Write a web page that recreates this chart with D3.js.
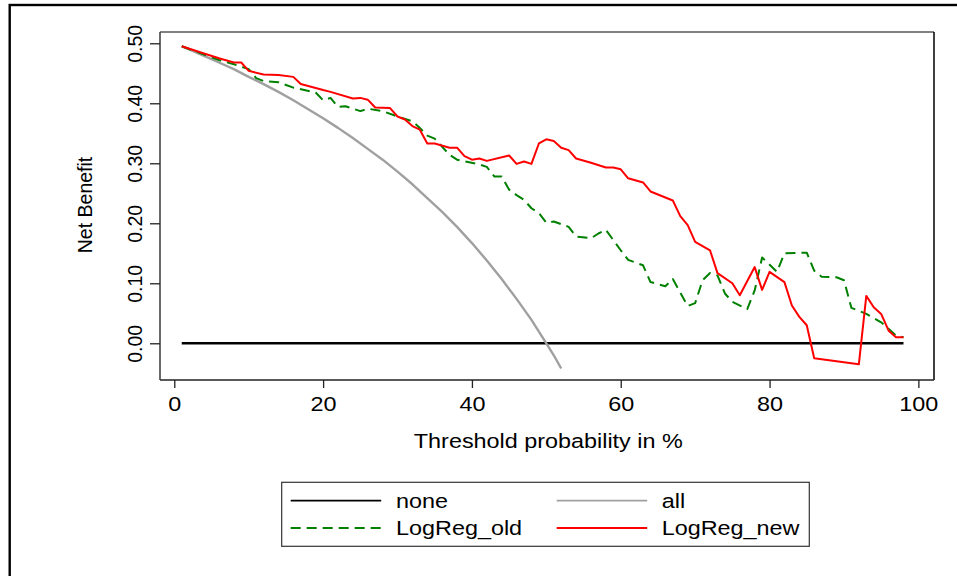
<!DOCTYPE html>
<html>
<head>
<meta charset="utf-8">
<script src="https://cdn.jsdelivr.net/npm/d3@7"></script>
<style>
  body { margin: 0; background: #fff; }
  svg text { font-family: "Liberation Sans", Arial, Helvetica, sans-serif; fill: #000; }
</style>
</head>
<body>
<div id="chart"></div>
<script>
// threshold probability (%) and net benefit for each series
var noneX = [1, 98],
    noneY = [0, 0];

var allX = [1, 2, 4, 6, 8, 10, 12, 14, 16, 18, 20, 22, 24, 26, 28, 30, 32, 34, 36, 38, 40, 42, 44, 46, 48, 50, 51, 52],
    allY = [0.495, 0.490, 0.479, 0.468, 0.457, 0.444, 0.432, 0.419, 0.405, 0.390, 0.375, 0.359, 0.342, 0.324, 0.306, 0.286,
            0.265, 0.242, 0.219, 0.194, 0.167, 0.138, 0.107, 0.074, 0.039, 0.000, -0.020, -0.042];

var oldX = [1, 6, 8, 10, 11, 12, 14, 16, 19, 20, 21, 22, 23, 25, 26, 28, 30, 32, 33, 34, 35, 37, 38, 41, 42, 43, 44, 45,
            46, 47, 48, 49, 50, 51, 53, 54, 56, 57, 58, 60, 61, 63, 64, 66, 67, 69, 70, 71, 72, 73, 74, 75, 77, 78, 79,
            81, 82, 85, 86, 87, 89, 90, 91, 93, 95, 97, 98],
    oldY = [0.495, 0.472, 0.465, 0.457, 0.442, 0.437, 0.435, 0.426, 0.418, 0.405, 0.409, 0.394, 0.395, 0.387, 0.391,
            0.387, 0.378, 0.370, 0.359, 0.346, 0.341, 0.314, 0.306, 0.298, 0.294, 0.278, 0.278, 0.256, 0.247, 0.239,
            0.225, 0.217, 0.201, 0.203, 0.194, 0.178, 0.175, 0.183, 0.189, 0.155, 0.139, 0.130, 0.102, 0.095, 0.107,
            0.062, 0.067, 0.105, 0.117, 0.113, 0.083, 0.069, 0.057, 0.088, 0.143, 0.119, 0.150, 0.151, 0.121, 0.111,
            0.110, 0.105, 0.059, 0.049, 0.035, 0.013, 0.010];

var newX = [1, 4, 6, 8, 9, 10, 12, 14, 16, 17, 20, 21, 24, 25, 26, 27, 29, 30, 31, 32, 33, 34, 35, 37, 38, 39, 40, 41,
            42, 45, 46, 47, 48, 49, 50, 51, 52, 53, 54, 56, 58, 59, 60, 61, 63, 64, 67, 68, 69, 70, 72, 73, 75, 76, 78,
            79, 80, 82, 83, 84, 85, 86, 92, 93, 94, 95, 96, 97, 98],
    newY = [0.495, 0.483, 0.475, 0.468, 0.468, 0.454, 0.448, 0.447, 0.444, 0.432, 0.422, 0.419, 0.408, 0.409, 0.406,
            0.393, 0.392, 0.378, 0.373, 0.362, 0.356, 0.333, 0.333, 0.326, 0.326, 0.312, 0.306, 0.308, 0.304, 0.313,
            0.299, 0.303, 0.299, 0.333, 0.340, 0.337, 0.326, 0.322, 0.308, 0.301, 0.293, 0.293, 0.290, 0.275, 0.268,
            0.253, 0.238, 0.212, 0.197, 0.169, 0.155, 0.117, 0.100, 0.080, 0.127, 0.089, 0.119, 0.102, 0.063, 0.044,
            0.030, -0.025, -0.035, 0.079, 0.060, 0.049, 0.021, 0.010, 0.010];

var xTicks = [0, 20, 40, 60, 80, 100],
    yTicks = [0, 0.1, 0.2, 0.3, 0.4, 0.5];

var series = [
  { name: "none", x: noneX, y: noneY, color: "#000000", width: 2.6, dash: null },
  { name: "all", x: allX, y: allY, color: "#a0a0a0", width: 2.4, dash: null },
  { name: "LogReg_old", x: oldX, y: oldY, color: "#008000", width: 2, dash: "10,6" },
  { name: "LogReg_new", x: newX, y: newY, color: "#ff0000", width: 2, dash: null }
];

var width = 957, height = 576;
var plot = { left: 160, top: 32, right: 934, bottom: 380 };
var fontSize = 19.5, stretch = 1.2;

var svg = d3.select("#chart").append("svg")
    .attr("width", width)
    .attr("height", height);

// outer graph frame (runs off the right and bottom edges)
svg.append("rect")
    .attr("x", 9.7).attr("y", 5)
    .attr("width", 1000).attr("height", 1000)
    .attr("fill", "none")
    .attr("stroke", "#000")
    .attr("stroke-width", 2.4);

var x = d3.scaleLinear()
    .domain([-1.92, 102.1])
    .range([plot.left, plot.right]);

var y = d3.scaleLinear()
    .domain([-0.0612, 0.5188])
    .range([plot.bottom, plot.top]);

// plot region border
svg.append("line")
    .attr("x1", plot.left).attr("x2", plot.right)
    .attr("y1", plot.top).attr("y2", plot.top)
    .attr("stroke", "#808080").attr("stroke-width", 2);
svg.append("line")
    .attr("x1", plot.right).attr("x2", plot.right)
    .attr("y1", plot.top).attr("y2", plot.bottom)
    .attr("stroke", "#000").attr("stroke-width", 1.5);
svg.append("line")
    .attr("x1", plot.left).attr("x2", plot.right)
    .attr("y1", plot.bottom).attr("y2", plot.bottom)
    .attr("stroke", "#222").attr("stroke-width", 1.6);
svg.append("line")
    .attr("x1", plot.left).attr("x2", plot.left)
    .attr("y1", plot.top).attr("y2", plot.bottom)
    .attr("stroke", "#444").attr("stroke-width", 1.6);

var yAxis = d3.axisLeft(y)
    .tickValues(yTicks)
    .tickSize(10)
    .tickFormat(d3.format(".2f"));

svg.append("g")
    .attr("transform", "translate(" + plot.left + ",0)")
    .call(yAxis)
    .call(g => g.select(".domain").remove())
    .call(g => g.selectAll(".tick line").attr("stroke", "#222").attr("stroke-width", 1.3))
    .call(g => g.selectAll(".tick text")
        .attr("x", null).attr("dy", null)
        .attr("transform", "translate(-18.3,0) rotate(-90)")
        .attr("text-anchor", "middle")
        .attr("font-size", fontSize));

var xAxis = d3.axisBottom(x)
    .tickValues(xTicks)
    .tickSize(8)
    .tickFormat(d => d);

svg.append("g")
    .attr("transform", "translate(0," + plot.bottom + ")")
    .call(xAxis)
    .call(g => g.select(".domain").remove())
    .call(g => g.selectAll(".tick line").attr("stroke", "#222").attr("stroke-width", 1.3))
    .call(g => g.selectAll(".tick text")
        .attr("y", null).attr("dy", null)
        .attr("transform", "translate(0,31) scale(" + stretch + ",1)")
        .attr("text-anchor", "middle")
        .attr("font-size", fontSize));

// axis titles
svg.append("text")
    .attr("transform", "translate(91.7,205) rotate(-90)")
    .attr("text-anchor", "middle")
    .attr("font-size", fontSize)
    .text("Net Benefit");

svg.append("text")
    .attr("transform", "translate(548.3,448.3) scale(" + stretch + ",1)")
    .attr("text-anchor", "middle")
    .attr("font-size", fontSize)
    .text("Threshold probability in %");

var line = d3.line()
    .x(d => x(d[0]))
    .y(d => y(d[1]));

svg.append("g")
    .selectAll("path")
    .data(series)
  .join("path")
    .attr("d", s => line(d3.zip(s.x, s.y)))
    .attr("fill", "none")
    .attr("stroke", s => s.color)
    .attr("stroke-width", s => s.width)
    .attr("stroke-dasharray", s => s.dash)
    .attr("stroke-linejoin", "round");

// legend
var legend = svg.append("g");

legend.append("rect")
    .attr("x", 281.7).attr("y", 482.3)
    .attr("width", 527.6).attr("height", 64)
    .attr("fill", "#fff")
    .attr("stroke", "#333")
    .attr("stroke-width", 1.2);

var legendPos = [
  { lx: 290.7, tx: 396, ly: 500.7 },
  { lx: 556.7, tx: 661.7, ly: 500.7 },
  { lx: 290.7, tx: 396, ly: 528 },
  { lx: 556.7, tx: 661.7, ly: 528 }
];

var items = legend.selectAll("g.item")
    .data(series)
  .join("g")
    .attr("class", "item");

items.append("line")
    .attr("x1", (s, i) => legendPos[i].lx)
    .attr("x2", (s, i) => legendPos[i].lx + 90.5)
    .attr("y1", (s, i) => legendPos[i].ly)
    .attr("y2", (s, i) => legendPos[i].ly)
    .attr("stroke", s => s.color)
    .attr("stroke-width", 1.8)
    .attr("stroke-dasharray", s => s.dash);

items.append("text")
    .attr("transform", (s, i) => "translate(" + legendPos[i].tx + "," + (legendPos[i].ly + 6.8) + ") scale(" + stretch + ",1)")
    .attr("font-size", fontSize)
    .text(s => s.name);
</script>
</body>
</html>
